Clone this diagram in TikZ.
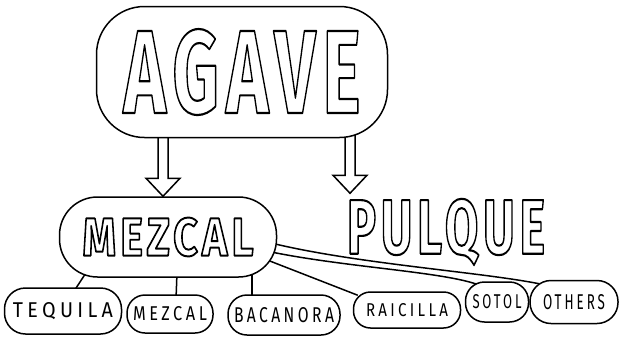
\documentclass[tikz,border=0pt]{standalone}
\usepackage{fontspec}
\setmainfont{Fira Sans}
\usepackage{graphicx}
\usetikzlibrary{calc}
\newfontfamily\labfont{Fira Sans}[LetterSpace=22]
\newfontfamily\bigfont{Fira Sans}[LetterSpace=10]
% outlined (hollow) title text: width, height, outline thickness (bp), size, text
\newcommand\outl[5]{\resizebox{#1}{#2}{\fontsize{#4}{#4}\bigfont\bfseries\special{pdf:literal direct 1 Tr #3 w 1 j}#5\special{pdf:literal direct 0 Tr}}}
% thin label text: width, height, text
\newcommand\lab[3]{\resizebox{#1}{#2}{\fontsize{20}{20}\labfont #3}}
\pgfdeclarelayer{bg}
\pgfsetlayers{bg,main}
\begin{document}
\begin{tikzpicture}[x=1pt,y=-1pt,line width=1.5pt,line join=round,line cap=round,
  bubble/.style={draw,fill=white,rounded corners=#1,inner sep=0pt},
  link/.style={draw,line width=1.5pt},
  arrowbody/.style={draw,fill=white,line width=1.5pt,line join=miter}]
\useasboundingbox (0,0) rectangle (620,338);

\node[bubble=48pt,minimum width=291pt,minimum height=131pt] (agave) at (242,72)
  {\outl{237pt}{84pt}{2.2}{120}{AGAVE}};
\node[bubble=38pt,minimum width=217pt,minimum height=80pt] (mezcalB) at (168,237)
  {\outl{171pt}{38pt}{2}{55}{MEZCAL}};
\node[inner sep=0pt] (pulque) at (446,232)
  {\outl{198pt}{55pt}{2.2}{80}{PULQUE}};

\node[bubble=21pt,minimum width=117pt,minimum height=46pt] (tequila) at (63,311)
  {\lab{100pt}{15pt}{TEQUILA}};
\node[bubble=18pt,minimum width=86pt,minimum height=38pt] (mezcalS) at (170,314)
  {\lab{74pt}{14pt}{MEZCAL}};
\node[bubble=19pt,minimum width=112pt,minimum height=40pt] (bacanora) at (284,315)
  {\lab{100pt}{15pt}{BACANORA}};
\node[bubble=17pt,minimum width=107pt,minimum height=36pt] (raicilla) at (407,310)
  {\lab{82pt}{13pt}{RAICILLA}};
\node[bubble=19pt,minimum width=63pt,minimum height=40pt] (sotol) at (497,302)
  {\lab{49pt}{14pt}{SOTOL}};
\node[bubble=21pt,minimum width=88pt,minimum height=43pt] (others) at (574,302)
  {\lab{62pt}{15pt}{OTHERS}};

\begin{pgfonlayer}{bg}
  % hollow arrows
  \coordinate (as1) at ($(agave.south)+(-79,-10)$);
  \coordinate (ae1) at (as1 |- mezcalB.north);
  \coordinate (as2) at ($(agave.south)+(108,-10)$);
  \coordinate (ae2) at ($(agave.south)+(108,55)$);
  \foreach \s/\e in {as1/ae1,as2/ae2}{
    \path[arrowbody] let \p1=(\s), \p2=(\e) in
      (\x1-5pt,\y1) -- (\x1-5pt,\y2+18pt) -- (\x1-17pt,\y2+18pt) -- (\x1,\y2)
      -- (\x1+17pt,\y2+18pt) -- (\x1+5pt,\y2+18pt) -- (\x1+5pt,\y1) -- cycle;
  }
  % branches
  \path[link] ($(mezcalB.south)+(-80,-8)$) -- ($(tequila.north)+(9,7)$);
  \path[link] ($(mezcalB.south)+(9,-5)$) -- ($(mezcalS.north)+(6,5)$);
  \path[link] ($(mezcalB.south)+(84,-8)$) -- ($(bacanora.north)+(-32,5)$);
  \path[link] ($(mezcalB.east)+(-10,23)$) -- ($(raicilla.north west)+(5,4)$);
  \path[link] ($(mezcalB.east)+(-6,15)$) .. controls (350,268) and (450,272) .. ($(sotol.north)+(-15,5)$);
  \path[link] ($(mezcalB.east)+(-2,7)$) .. controls (360,264) and (480,272) .. ($(others.north west)+(10,4)$);
\end{pgfonlayer}
\end{tikzpicture}
\end{document}
